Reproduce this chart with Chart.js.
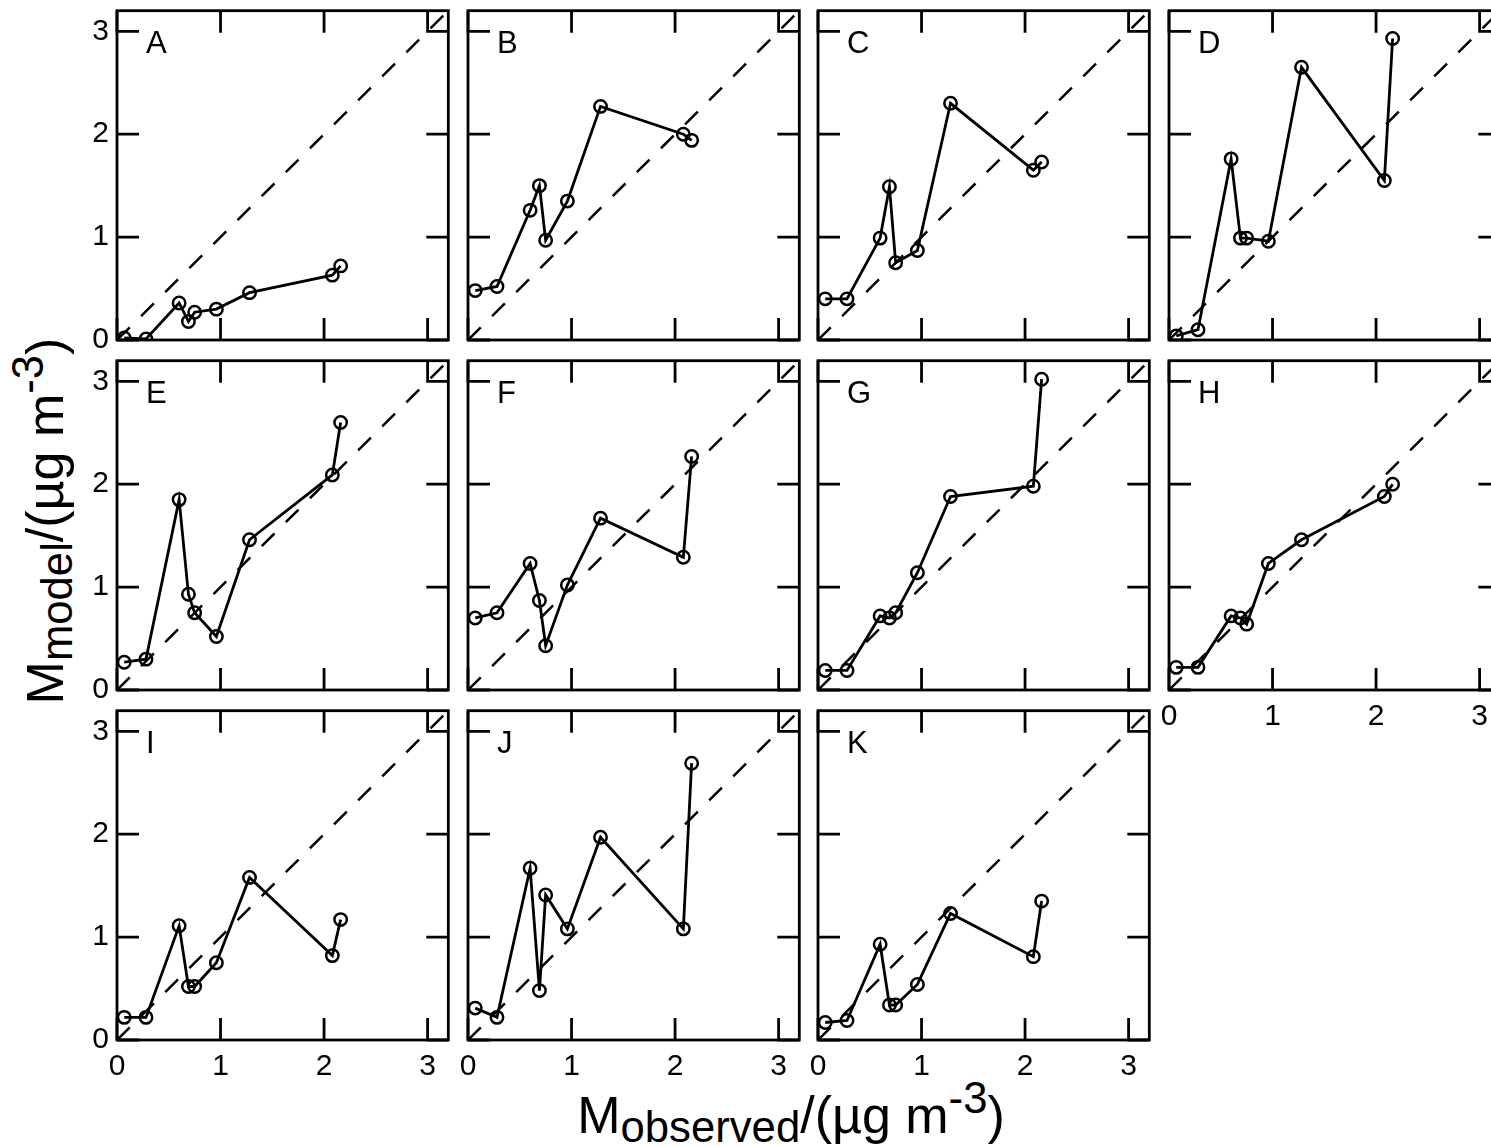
<!DOCTYPE html>
<html>
<head>
<meta charset="utf-8">
<script src="https://cdn.jsdelivr.net/npm/chart.js@4.4.1/dist/chart.umd.min.js"></script>
<style>
html, body { margin:0; padding:0; background:#fff; width:1491px; height:1146px; overflow:hidden; position:relative; }
canvas { position:absolute; }
.title { position:absolute; font-family:"Liberation Sans", Arial, sans-serif; font-size:52px; line-height:52px; color:#000; text-align:center; white-space:nowrap; }
.title sub { font-size:0.84em; vertical-align:baseline; position:relative; top:0.2em; }
.title sup { font-size:0.84em; vertical-align:baseline; position:relative; top:-0.45em; }
#xtitle { left:491px; top:1089px; width:600px; height:52px; }
#ytitle { left:-255px; top:495px; width:600px; height:52px; transform:rotate(-90deg); }
</style>
</head>
<body>
<div id="ytitle" class="title">M<sub>model</sub>/(µg m<sup>-3</sup>)</div>
<div id="xtitle" class="title">M<sub>observed</sub>/(µg m<sup>-3</sup>)</div>
<script>
// data
const panelLabels = ["A","B","C","D","E","F","G","H","I","J","K"]
const observed = [0.07, 0.28, 0.6, 0.69, 0.75, 0.96, 1.28, 2.08, 2.16]

const modelA = [0.02, 0.01, 0.36, 0.18, 0.27, 0.3, 0.46, 0.63, 0.72]
const modelB = [0.48, 0.52, 1.26, 1.5, 0.97, 1.35, 2.27, 2.0, 1.94]
const modelC = [0.4, 0.4, 0.99, 1.49, 0.75, 0.87, 2.3, 1.65, 1.73]
const modelD = [0.04, 0.1, 1.76, 0.99, 0.99, 0.96, 2.65, 1.55, 2.93]
const modelE = [0.27, 0.3, 1.85, 0.93, 0.75, 0.52, 1.46, 2.09, 2.6]
const modelF = [0.7, 0.75, 1.23, 0.87, 0.43, 1.02, 1.67, 1.29, 2.27]
const modelG = [0.19, 0.19, 0.72, 0.7, 0.75, 1.14, 1.88, 1.98, 3.02]
const modelH = [0.22, 0.22, 0.72, 0.7, 0.64, 1.23, 1.46, 1.88, 2.0]
const modelI = [0.22, 0.22, 1.11, 0.52, 0.52, 0.75, 1.58, 0.82, 1.17]
const modelJ = [0.31, 0.22, 1.67, 0.48, 1.41, 1.08, 1.97, 1.08, 2.69]
const modelK = [0.17, 0.19, 0.93, 0.34, 0.34, 0.54, 1.23, 0.81, 1.35]

const modelSeries = [modelA, modelB, modelC, modelD, modelE, modelF, modelG, modelH, modelI, modelJ, modelK]

const oneToOne = [0, 3.2]
const axisMin = 0
const axisMax = 3.2

// panels with tick labels
const showYLabels = ["A","E","I"]
const showXLabels = ["H","I","J","K"]

// layout
const colLeft = [117, 468, 818, 1169]
const rowTop = [8, 358, 708]
const plotW = 334
const plotH = 332
const yAxisW = 60
const xAxisH = 50
const pad = 6

const FONT = '"Liberation Sans", Arial, sans-serif'

// frame, inside ticks and panel letter
const framePlugin = {
id: "frame",
afterDraw(chart, args, opts) {
const ctx = chart.ctx
const a = chart.chartArea
const sx = chart.scales.x
const sy = chart.scales.y
const len = 22
ctx.save()
ctx.strokeStyle = "#000"
ctx.lineWidth = 2.8
ctx.strokeRect(a.left, a.top, a.right - a.left, a.bottom - a.top)
ctx.beginPath()
sx.ticks.forEach(t => {
const px = sx.getPixelForValue(t.value)
ctx.moveTo(px, a.bottom); ctx.lineTo(px, a.bottom - len)
ctx.moveTo(px, a.top); ctx.lineTo(px, a.top + len)
})
sy.ticks.forEach(t => {
const py = sy.getPixelForValue(t.value)
ctx.moveTo(a.left, py); ctx.lineTo(a.left + len, py)
ctx.moveTo(a.right, py); ctx.lineTo(a.right - len, py)
})
ctx.stroke()
ctx.fillStyle = "#000"
ctx.font = "31px " + FONT
ctx.textBaseline = "alphabetic"
ctx.textAlign = "left"
ctx.fillText(opts.label, a.left + 29, a.top + 42)
ctx.restore()
}
}

panelLabels.forEach((label, i) => {

const col = i % 4
const row = Math.floor(i / 4)

const canvas = document.createElement("canvas")
canvas.width = yAxisW + plotW + pad
canvas.height = pad + plotH + xAxisH
canvas.style.left = (colLeft[col] - yAxisW) + "px"
canvas.style.top = (rowTop[row] - pad) + "px"
document.body.appendChild(canvas)

const points = observed.map((x, k) => ({x: x, y: modelSeries[i][k]}))

new Chart(canvas.getContext("2d"), {

type: "scatter",

data: {
datasets: [
{
data: oneToOne.map(v => ({x: v, y: v})),
showLine: true,
borderColor: "#000",
borderWidth: 2.5,
borderDash: [18, 16],
pointRadius: 0
},
{
data: points,
showLine: true,
borderColor: "#000",
borderWidth: 2.8,
pointStyle: "circle",
pointRadius: 6.2,
pointBorderWidth: 2.5,
pointBorderColor: "#000",
pointBackgroundColor: "rgba(0,0,0,0)"
}
]
},

options: {
responsive: false,
animation: false,
devicePixelRatio: 1,
layout: { padding: { top: pad, right: pad, left: 0, bottom: 0 } },
plugins: {
legend: { display: false },
tooltip: { enabled: false },
frame: { label: label }
},
scales: {
x: {
type: "linear",
min: axisMin,
max: axisMax,
grid: { display: false, drawTicks: false },
border: { display: false },
ticks: {
display: showXLabels.includes(label),
stepSize: 1,
includeBounds: false,
padding: 9,
color: "#000",
font: { family: FONT, size: 30 }
},
afterFit(scale) {
scale.height = xAxisH
scale.paddingLeft = 0
scale.paddingRight = 0
}
},
y: {
type: "linear",
min: axisMin,
max: axisMax,
grid: { display: false, drawTicks: false },
border: { display: false },
ticks: {
display: showYLabels.includes(label),
stepSize: 1,
includeBounds: false,
padding: 8,
color: "#000",
font: { family: FONT, size: 30 }
},
afterFit(scale) {
scale.width = yAxisW
scale.paddingTop = 0
scale.paddingBottom = 0
}
}
}
},

plugins: [framePlugin]

})

})
</script>
</body>
</html>
